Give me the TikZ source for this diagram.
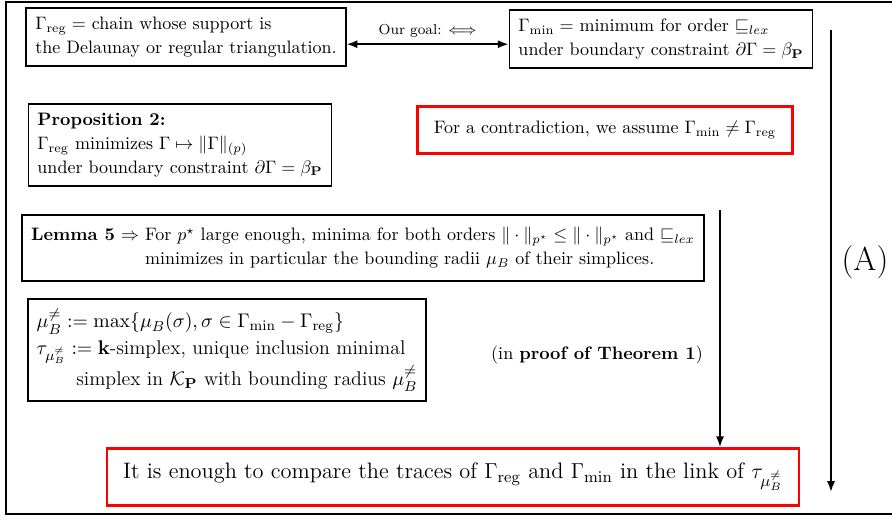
\documentclass[tikz,border=0pt]{standalone}
\usepackage{amsfonts,amssymb,amsmath}
\usepackage{xcolor}
\usetikzlibrary{arrows.meta,arrows}

\begin{document}
\begin{tikzpicture}[x=0.555pt,y=-0.555pt,>={Latex[length=6pt,width=4.5pt]},
  box/.style={draw,line width=1pt,align=left,inner sep=5pt,font=\linespread{1.1}\selectfont},
  redbox/.style={draw=red,line width=1.6pt,align=left,inner xsep=9pt,inner ysep=8pt}]
\useasboundingbox (0,0) rectangle (892,518);
\draw[line width=1pt](900,2)--(6,2)--(6,514)--(900,514);
% top row
\node[box](reg) at (186,37){$\Gamma_{\mathrm{reg}}=$ chain whose support is\\the Delaunay or regular triangulation.};
\node[box](min) at (661,39){$\Gamma_{\min}=$ minimum for order $\sqsubseteq_{lex}$\\under boundary constraint $\partial\Gamma=\beta_{\mathbf{P}}$};
\draw[<->,line width=1pt]([yshift=-4pt]reg.east)--([yshift=-4pt]reg.east -| min.west)
  node[midway,above,font=\footnotesize]{Our goal: $\Longleftrightarrow$};
% second row
\node[box](prop) at (180,145){\textbf{Proposition 2:}\\$\Gamma_{\mathrm{reg}}$ minimizes $\Gamma\mapsto\|\Gamma\|_{(p)}$\\under boundary constraint $\partial\Gamma=\beta_{\mathbf{P}}$};
\node[redbox](contra) at (605,130){For a contradiction, we assume $\Gamma_{\min}\neq\Gamma_{\mathrm{reg}}$};
% lemma
\node[box](lem) at (363,248){\begin{tabular}{@{}l@{ }l@{}}\textbf{Lemma 5} $\Rightarrow$ & For $p^\star$ large enough, minima for both orders $\|\cdot\|_{p^\star}\leq\|\cdot\|_{p^\star}$ and $\sqsubseteq_{lex}$\\
 & minimizes in particular the bounding radii $\mu_B$ of their simplices.\end{tabular}};
\node[box,font=\fontsize{11}{14.5}\selectfont](mu) at (227,350){$\mu_B^{\neq}:=\max\{\mu_B(\sigma),\sigma\in\Gamma_{\min}-\Gamma_{\mathrm{reg}}\}$\\
$\tau_{\mu_B^{\neq}}:=\mathbf{k}$-simplex, unique inclusion minimal\\
\hspace*{2em}simplex in $\mathcal{K}_{\mathbf{P}}$ with bounding radius $\mu_B^{\neq}$};
\node(thm) at (597,355){(in \textbf{proof of Theorem 1})};
% conclusion
\node[redbox,font=\fontsize{12.4}{15}\selectfont](fin) at (453,477){It is enough to compare the traces of $\Gamma_{\mathrm{reg}}$ and $\Gamma_{\min}$ in the link of $\tau_{\mu_B^{\neq}}$};
\coordinate(lemtop) at (720,210);
\draw[->,line width=1pt](lemtop)--(lemtop |- fin.north);
% (A)
\coordinate(atop) at (831,30);
\coordinate(abot) at (831,492);
\draw[->,line width=1pt](atop)--(abot);
\node[font=\fontsize{18.5}{22}\selectfont,inner sep=0pt](A) at (865,262){(A)};
\end{tikzpicture}
\end{document}
